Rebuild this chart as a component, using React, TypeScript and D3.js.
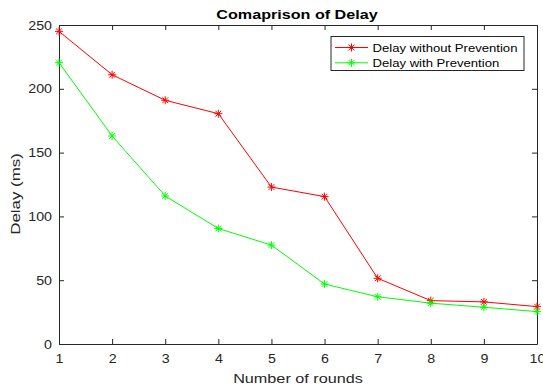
import React, { useEffect, useRef } from "react";
import * as d3 from "d3";

const rounds = [1, 2, 3, 4, 5, 6, 7, 8, 9, 10];
const withoutPrevention = [245, 211, 191, 180.5, 123, 115.5, 51.5, 34, 33, 29.3];
const withPrevention = [220.5, 163, 116, 90.5, 77.5, 47, 37, 32, 28.8, 25.4];
const yTicks = [0, 50, 100, 150, 200, 250];

const series = [
  { name: "Delay without Prevention", values: withoutPrevention, color: "#ff0000" },
  { name: "Delay with Prevention", values: withPrevention, color: "#00ff00" },
];

const App = () => {
  const ref = useRef<SVGSVGElement>(null);

  useEffect(() => {
    const svg = d3.select(ref.current);
    svg.selectAll("*").remove();

    const W = 543;
    const H = 387;
    const margin = { top: 25, right: 6, bottom: 43, left: 59 };
    const width = W - margin.left - margin.right;
    const height = H - margin.top - margin.bottom;
    const font = "'Liberation Sans', Arial, Helvetica, sans-serif";
    const axisColor = "#262626";

    // the reference font is a wide helvetica, so widen each text a bit
    const widen = (sel, k) =>
      sel.each(function () {
        const len = (this as SVGTextElement).getComputedTextLength();
        d3.select(this).attr("textLength", len * k).attr("lengthAdjust", "spacingAndGlyphs");
      });

    svg.attr("width", W).attr("height", H);
    svg.append("rect").attr("width", W).attr("height", H).attr("fill", "white");

    const chart = svg
      .append("g")
      .attr("transform", `translate(${margin.left},${margin.top})`);

    const x = d3.scaleLinear().domain([1, 10]).range([0, width]);
    const y = d3.scaleLinear().domain([0, 250]).range([height, 0]);

    // inward ticks on all four sides (matlab style)
    const tick = 5;
    const bottom = chart
      .append("g")
      .attr("transform", `translate(0,${height})`)
      .call(d3.axisBottom(x).tickValues(rounds).tickSizeInner(-tick).tickSizeOuter(0).tickPadding(10));
    const top = chart
      .append("g")
      .call(d3.axisTop(x).tickValues(rounds).tickSizeInner(-tick).tickSizeOuter(0).tickFormat(() => ""));
    const left = chart
      .append("g")
      .call(d3.axisLeft(y).tickValues(yTicks).tickSizeInner(-tick).tickSizeOuter(0).tickPadding(7));
    const right = chart
      .append("g")
      .attr("transform", `translate(${width},0)`)
      .call(d3.axisRight(y).tickValues(yTicks).tickSizeInner(-tick).tickSizeOuter(0).tickFormat(() => ""));

    [bottom, top, left, right].forEach((g) => {
      g.select(".domain").attr("stroke", axisColor);
      g.selectAll(".tick line").attr("stroke", axisColor);
      g.selectAll("text")
        .attr("fill", axisColor)
        .style("font-family", font)
        .style("font-size", "12.5px");
      widen(g.selectAll("text"), 1.14);
    });

    // title and labels
    const title = svg
      .append("text")
      .attr("x", 297)
      .attr("y", 18.5)
      .attr("text-anchor", "middle")
      .style("font-family", font)
      .style("font-size", "13px")
      .style("font-weight", "bold")
      .attr("fill", "black")
      .text("Comaprison of Delay");
    widen(title, 1.24);

    const xLabel = svg
      .append("text")
      .attr("x", 298)
      .attr("y", 382.5)
      .attr("text-anchor", "middle")
      .style("font-family", font)
      .style("font-size", "13.5px")
      .attr("fill", axisColor)
      .text("Number of rounds");
    widen(xLabel, 1.2);

    const yLabel = svg
      .append("text")
      .attr("transform", `translate(20,194) rotate(-90)`)
      .attr("text-anchor", "middle")
      .style("font-family", font)
      .style("font-size", "13.5px")
      .attr("fill", axisColor)
      .text("Delay (ms)");
    widen(yLabel, 1.25);

    const star = (g, cx, cy, color) => {
      const r = 4;
      const d = r * 0.72;
      g.append("path")
        .attr(
          "d",
          `M${cx - r},${cy}L${cx + r},${cy}M${cx},${cy - r}L${cx},${cy + r}` +
            `M${cx - d},${cy - d}L${cx + d},${cy + d}M${cx - d},${cy + d}L${cx + d},${cy - d}`
        )
        .attr("stroke", color)
        .attr("stroke-width", 1)
        .attr("fill", "none");
    };

    const line = d3
      .line<number>()
      .x((d, i) => x(rounds[i]))
      .y((d) => y(d));

    series.forEach((s) => {
      chart
        .append("path")
        .datum(s.values)
        .attr("d", line)
        .attr("fill", "none")
        .attr("stroke", s.color)
        .attr("stroke-width", 1);
      s.values.forEach((v, i) => star(chart, x(rounds[i]), y(v), s.color));
    });

    // legend
    const legend = svg.append("g").attr("transform", "translate(331,36.5)");
    legend
      .append("rect")
      .attr("width", 193)
      .attr("height", 34)
      .attr("fill", "white")
      .attr("stroke", axisColor)
      .attr("stroke-width", 1);
    series.forEach((s, i) => {
      const ly = 11 + i * 15.3;
      legend
        .append("line")
        .attr("x1", 4)
        .attr("x2", 37)
        .attr("y1", ly)
        .attr("y2", ly)
        .attr("stroke", s.color);
      star(legend, 20.5, ly, s.color);
      const t = legend
        .append("text")
        .attr("x", 41.5)
        .attr("y", ly + 4.3)
        .style("font-family", font)
        .style("font-size", "11.6px")
        .attr("fill", "black")
        .text(s.name);
      widen(t, 1.13);
    });
  }, []);

  return <svg ref={ref} style={{ position: "absolute", left: 0, top: 0 }}></svg>;
};

export default App;
